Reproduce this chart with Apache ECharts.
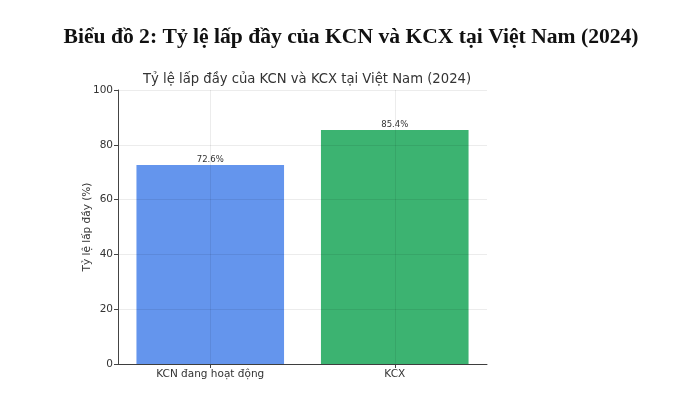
<!DOCTYPE html>
<html><head><meta charset="utf-8">
<script src="https://cdn.jsdelivr.net/npm/echarts@6/dist/echarts.min.js"></script>
<style>html,body{margin:0;padding:0;background:#fff}#c{width:680px;height:412px}</style>
</head><body><div id="c"></div>
<script>
const categories = ['KCN đang hoạt động', 'KCX'];
const values = [72.6, 85.4];
const colors = ['#6495ED', '#3CB371'];
const yTicks = [0, 20, 40, 60, 80, 100];

const gridColor = 'rgba(0,0,0,0.075)';
const chart = echarts.init(document.getElementById('c'), null, {renderer: 'canvas'});
chart.setOption({
  animation: false,
  backgroundColor: '#fff',
  title: [
    {text: 'Biểu đồ 2: Tỷ lệ lấp đầy của KCN và KCX tại Việt Nam (2024)', left: 346, textAlign: 'center', top: 21,
     textStyle: {fontFamily: 'Liberation Serif', fontWeight: 'bold', fontSize: 21.6, color: '#111'}},
    {text: 'Tỷ lệ lấp đầy của KCN và KCX tại Việt Nam (2024)', left: 302, textAlign: 'center', top: 68,
     textStyle: {fontFamily: 'DejaVu Sans', fontWeight: 'normal', fontSize: 13.2, color: '#333'}}
  ],
  grid: {left: 118, right: 193, top: 90, bottom: 48},
  xAxis: {
    type: 'category', data: categories,
    axisLine: {lineStyle: {color: '#444', width: 1}},
    axisTick: {show: true, alignWithLabel: true, length: 4, lineStyle: {color: '#444'}},
    axisLabel: {fontFamily: 'DejaVu Sans', fontSize: 10.5, color: '#333', margin: 5},
    splitLine: {show: false}
  },
  yAxis: {
    type: 'value', min: 0, max: 100, interval: 20, z: 3,
    name: 'Tỷ lệ lấp đầy (%)', nameLocation: 'middle', nameGap: 25, nameRotate: 90,
    nameMoveOverlap: false,
    nameTextStyle: {fontFamily: 'DejaVu Sans', fontSize: 10.5, color: '#333'},
    axisLine: {show: true, lineStyle: {color: '#444', width: 1}},
    axisTick: {show: true, length: 4, lineStyle: {color: '#444'}},
    axisLabel: {fontFamily: 'DejaVu Sans', fontSize: 10.5, color: '#333', margin: 5,
      formatter: v => yTicks.includes(v) ? String(v) : ''},
    splitLine: {show: true, lineStyle: {color: gridColor, type: 'solid', width: 1}}
  },
  series: [{
    type: 'bar', barWidth: '80%',
    data: values.map((v, i) => ({value: v, itemStyle: {color: colors[i]}})),
    label: {show: true, position: 'top', distance: 1, formatter: p => p.value.toFixed(1) + '%',
      fontFamily: 'DejaVu Sans', fontSize: 8.5, color: '#333'},
    markLine: {
      silent: true, symbol: 'none', label: {show: false},
      lineStyle: {color: gridColor, type: 'solid', width: 1},
      data: categories.map(c => ({xAxis: c}))
    }
  }]
});
</script></body></html>
